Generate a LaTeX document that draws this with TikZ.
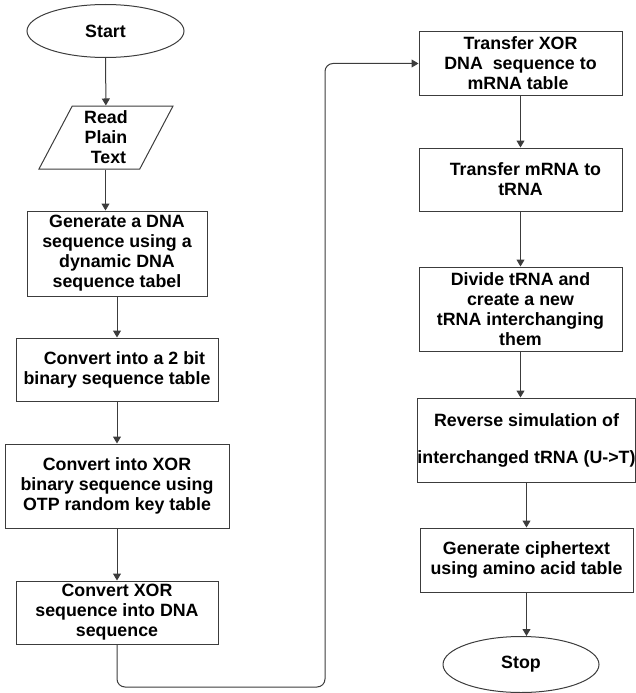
\documentclass[tikz,border=0pt]{standalone}
\usepackage{fontspec}
\setmainfont{Liberation Sans}
\usepackage{tikz}
\usetikzlibrary{shapes.geometric,arrows.meta,positioning,calc}
\definecolor{flowLine}{RGB}{60,60,60}

\begin{document}
\begin{tikzpicture}[x=1pt, y=-1pt,
    font=\fontsize{17.8}{20}\selectfont\bfseries,
    terminal/.style={ellipse, draw=flowLine, line width=1pt, inner sep=0pt, minimum width=157pt, minimum height=53pt},
    inbox/.style={trapezium, trapezium left angle=68, trapezium right angle=112, trapezium stretches=true, draw=flowLine, line width=1pt, inner sep=0pt, minimum width=135pt, minimum height=63pt, align=center},
    process/.style={rectangle, draw=flowLine, line width=1pt, inner sep=0pt, align=center},
    flow/.style={-{Triangle[length=7pt,width=8pt]}, draw=flowLine, line width=1pt}]
        \useasboundingbox (0,0) rectangle (635,693);
        % Left column
        \node[terminal] (start) at (105.5,31) {Start};
        \node[inbox] (read) at (106,137.5) {Read\\Plain\\\ Text};
        \node[process, minimum width=180pt, minimum height=85pt]
          (gendna) at (117,253.5) {Generate a DNA\\sequence using a\\dynamic DNA\\sequence tabel};
        \node[process, minimum width=202pt, minimum height=63pt]
          (twobit) at (117,369.5) {\ \ \ Convert into a 2 bit\\binary sequence table};
        \node[process, minimum width=224pt, minimum height=84pt]
          (xorbin) at (117,486) {Convert into XOR\\binary sequence using\\OTP random key table};
        \node[process, minimum width=202pt, minimum height=63pt]
          (xordna) at (117,612.5) {Convert XOR\\sequence into DNA\\sequence};
        % Right column
        \node[process, minimum width=203pt, minimum height=63pt]
          (mrna) at (520.5,63.5) {Transfer XOR\\DNA\ \ sequence to\\mRNA table\ \ };
        \node[process, minimum width=203pt, minimum height=63pt]
          (trna) at (520.5,179.5) {\ \ Transfer mRNA to\\tRNA};
        \node[process, minimum width=203pt, minimum height=84pt]
          (divide) at (520.5,309) {Divide tRNA and\\create a new\\tRNA interchanging\ \ \\them};
        \node[process, minimum width=213pt, minimum height=84pt]
          (reverse) at (526.5,440) {Reverse simulation of\\[17pt]interchanged tRNA (U->T)};
        \node[process, minimum width=213pt, minimum height=64pt]
          (cipher) at (526.5,560) {Generate ciphertext\\using amino acid table};
        \node[terminal, minimum width=156pt, minimum height=56pt] (stop) at (521,664.5) {Stop};
        % Arrows
        \draw[flow] (start) -- (read);
        \draw[flow] (read.south -| start) -- (gendna.north -| start);
        \draw[flow] (gendna) -- (twobit);
        \draw[flow] (twobit) -- (xorbin);
        \draw[flow] (xorbin) -- (xordna);
        \coordinate (loop) at (325,687);
        \draw[flow, rounded corners=8pt] (xordna.south) |- (loop) |- (mrna.west);
        \draw[flow] (mrna) -- (trna);
        \draw[flow] (trna) -- (divide);
        \draw[flow] (divide.south) -- (divide.south |- reverse.north);
        \draw[flow] (reverse) -- (cipher);
        \draw[flow] (cipher.south) -- (cipher.south |- stop.north);
\end{tikzpicture}
\end{document}
